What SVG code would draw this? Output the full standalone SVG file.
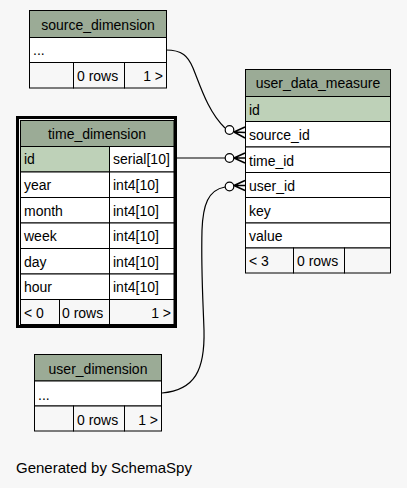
<svg xmlns="http://www.w3.org/2000/svg" width="407" height="488" viewBox="0 0 407 488">
<style>
text{font-family:"Liberation Sans",Arial,sans-serif;font-size:14px;fill:#000}
.c{text-anchor:middle}
.r{text-anchor:end}
.hd{fill:#9bab96;stroke:#000;stroke-width:1}
.pk{fill:#bed1b8;stroke:#000;stroke-width:1}
.cell{fill:#fff;stroke:#000;stroke-width:1}
.ft{fill:#f7f7f7;stroke:#000;stroke-width:1}
.edge{fill:none;stroke:#000;stroke-width:1.2}
.dot{fill:#fff;stroke:#000;stroke-width:1.2}
.crow{fill:none;stroke:#000;stroke-width:1.5}
</style>
<rect x="0" y="0" width="407" height="488" fill="#f7f7f7"/>

<g id="connectors">
  <path class="edge" d="M166,50 C182,50 188,56 193,68 C200,85 208,112 225,128"/>
  <circle class="dot" cx="229.5" cy="130" r="4.3"/>
  <path class="crow" d="M234,132 L245,127 M234,132 L245,132.5 M234,132 L245,138"/>

  <path class="edge" d="M176,158 L225,158"/>
  <circle class="dot" cx="229.5" cy="158" r="4.3"/>
  <path class="crow" d="M234,158 L245,153 M234,158 L245,158 M234,158 L245,163"/>

  <path class="edge" d="M162,393 C195,390 205,370 204,330 C203,300 201,270 202,230 C203,205 208,190 225,187"/>
  <circle class="dot" cx="229.5" cy="186.5" r="4.3"/>
  <path class="crow" d="M234,185.5 L245,180.5 M234,185.5 L245,185.5 M234,185.5 L245,190.5"/>
</g>

<g id="source_dimension">
  <rect class="hd" x="29.5" y="10.5" width="137" height="27"/>
  <text class="c" x="98" y="30">source_dimension</text>
  <rect class="cell" x="29.5" y="37.5" width="137" height="25"/>
  <text x="33" y="55">...</text>
  <rect class="ft" x="29.5" y="62.5" width="44" height="25.5"/>
  <rect class="ft" x="73.5" y="62.5" width="51" height="25.5"/>
  <rect class="ft" x="124.5" y="62.5" width="42" height="25.5"/>
  <text x="77" y="81">0 rows</text>
  <text class="r" x="163" y="81">1 &gt;</text>
</g>

<g id="time_dimension">
  <rect fill="none" stroke="#000" stroke-width="3" x="17.5" y="117.5" width="158" height="209"/>
  <rect class="hd" x="20.5" y="120.5" width="153.5" height="26"/>
  <text class="c" x="97" y="138.5">time_dimension</text>
  <rect class="pk" x="20.5" y="146.5" width="89" height="25.5"/>
  <rect class="cell" x="109.5" y="146.5" width="64.5" height="25.5"/>
  <text x="24" y="164">id</text>
  <text x="113" y="164">serial[10]</text>
  <rect class="cell" x="20.5" y="172" width="89" height="25.5"/>
  <rect class="cell" x="109.5" y="172" width="64.5" height="25.5"/>
  <text x="24" y="190">year</text>
  <text x="113" y="190">int4[10]</text>
  <rect class="cell" x="20.5" y="197.5" width="89" height="25.5"/>
  <rect class="cell" x="109.5" y="197.5" width="64.5" height="25.5"/>
  <text x="24" y="215.5">month</text>
  <text x="113" y="215.5">int4[10]</text>
  <rect class="cell" x="20.5" y="223" width="89" height="25.5"/>
  <rect class="cell" x="109.5" y="223" width="64.5" height="25.5"/>
  <text x="24" y="241">week</text>
  <text x="113" y="241">int4[10]</text>
  <rect class="cell" x="20.5" y="248.5" width="89" height="25.5"/>
  <rect class="cell" x="109.5" y="248.5" width="64.5" height="25.5"/>
  <text x="24" y="266.5">day</text>
  <text x="113" y="266.5">int4[10]</text>
  <rect class="cell" x="20.5" y="274" width="89" height="25.5"/>
  <rect class="cell" x="109.5" y="274" width="64.5" height="25.5"/>
  <text x="24" y="292">hour</text>
  <text x="113" y="292">int4[10]</text>
  <rect class="ft" x="20.5" y="299.5" width="39" height="25"/>
  <rect class="ft" x="59.5" y="299.5" width="50" height="25"/>
  <rect class="ft" x="109.5" y="299.5" width="64.5" height="25"/>
  <text x="24" y="317.5">&lt; 0</text>
  <text x="62" y="317.5">0 rows</text>
  <text class="r" x="171" y="317.5">1 &gt;</text>
</g>

<g id="user_data_measure">
  <rect class="hd" x="245.5" y="69.5" width="145" height="27"/>
  <text class="c" x="318" y="88">user_data_measure</text>
  <rect class="pk" x="245.5" y="96.5" width="145" height="25"/>
  <text x="249" y="114.5">id</text>
  <rect class="cell" x="245.5" y="121.5" width="145" height="25.5"/>
  <text x="249" y="140">source_id</text>
  <rect class="cell" x="245.5" y="147" width="145" height="25.5"/>
  <text x="249" y="165.5">time_id</text>
  <rect class="cell" x="245.5" y="172.5" width="145" height="25"/>
  <text x="249" y="190.5">user_id</text>
  <rect class="cell" x="245.5" y="197.5" width="145" height="25.5"/>
  <text x="249" y="216">key</text>
  <rect class="cell" x="245.5" y="223" width="145" height="25"/>
  <text x="249" y="241">value</text>
  <rect class="ft" x="245.5" y="248" width="48" height="25"/>
  <rect class="ft" x="293.5" y="248" width="51" height="25"/>
  <rect class="ft" x="344.5" y="248" width="46" height="25"/>
  <text x="249" y="266">&lt; 3</text>
  <text x="297" y="266">0 rows</text>
</g>

<g id="user_dimension">
  <rect class="hd" x="34.5" y="354.5" width="127" height="26.5"/>
  <text class="c" x="98" y="374">user_dimension</text>
  <rect class="cell" x="34.5" y="381" width="127" height="25"/>
  <text x="38" y="400">...</text>
  <rect class="ft" x="34.5" y="406" width="39" height="25"/>
  <rect class="ft" x="73.5" y="406" width="51" height="25"/>
  <rect class="ft" x="124.5" y="406" width="37" height="25"/>
  <text x="77" y="424.5">0 rows</text>
  <text class="r" x="158" y="424.5">1 &gt;</text>
</g>

<text x="16" y="473" style="font-size:15px">Generated by SchemaSpy</text>
</svg>
